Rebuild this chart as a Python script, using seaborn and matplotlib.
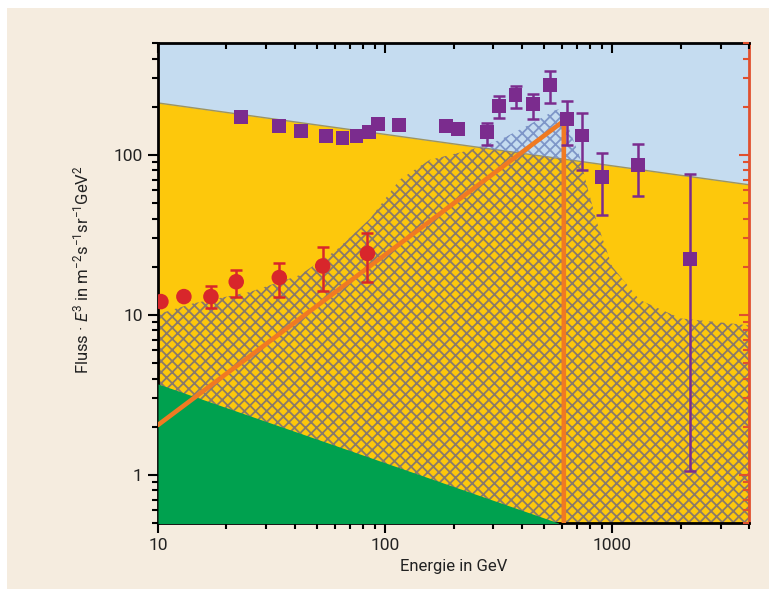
import matplotlib
matplotlib.use("Agg")
import matplotlib.pyplot as plt
import numpy as np
import seaborn as sns
from matplotlib.patches import Rectangle, Polygon
from matplotlib.ticker import FuncFormatter, NullFormatter

sns.set_theme(style="ticks")
plt.rcParams['font.family'] = ['Roboto', 'DejaVu Sans']
plt.rcParams['mathtext.fontset'] = 'custom'
plt.rcParams['mathtext.rm'] = 'Roboto'
plt.rcParams['mathtext.it'] = 'Roboto:italic'
plt.rcParams['hatch.linewidth'] = 1.3

# background power law (yellow / blue boundary)
bg_e = [10, 4000]
bg_flux = [211, 65]

# hatched band
hatch_e = [10, 14.3, 25.4, 42, 61, 86, 116, 157, 236, 320, 430, 560, 600,
           640, 720, 770, 850, 1000, 1320, 2000, 4000]
hatch_flux = [10.1, 11.8, 13.9, 17.7, 25.4, 40, 70, 93, 107, 124, 154, 190, 195,
              150, 97, 66, 39, 20, 12.4, 9.5, 8.6]

# green triangle
green_e = [10, 580]
green_flux = [3.7, 0.5]

# orange model line
model_e = [10, 612, 612]
model_flux = [2.05, 163, 0.3]

# red circles
red_e = [10.3, 13.0, 17.1, 22.1, 34.2, 53.1, 83.6]
red_flux = [12.1, 13.0, 13.0, 16.1, 17.1, 20.2, 24.2]
red_lo = [11.8, 12.6, 11.0, 13.0, 13.0, 14.1, 16.1]
red_hi = [12.4, 13.4, 15.2, 19.2, 21.2, 26.5, 32.7]

# purple squares
pur_e = [23.1, 34, 42.8, 54.8, 64.9, 74.8, 84.7, 93.1, 115, 186, 210,
         281, 317, 375, 449, 532, 630, 733, 903, 1302, 2198]
pur_flux = [173, 152, 141.5, 131.7, 126.8, 130.6, 139.5, 155, 153.7, 152, 144.4,
            139.5, 203, 237, 207, 273, 167, 132, 73, 86.4, 22.2]
pur_lo = [173, 152, 141.5, 131.7, 126.8, 130.6, 139.5, 155, 153.7, 152, 144.4,
          115.2, 169, 195, 167, 212, 115, 80.4, 42.1, 55.3, 1.05]
pur_hi = [173, 152, 141.5, 131.7, 126.8, 130.6, 139.5, 155, 153.7, 152, 144.4,
          157.5, 233, 269, 240, 336, 218, 181.8, 103, 117, 75.9]

blue = '#C5DCF0'
yellow = '#FDC80C'
green = '#00A14F'
orange = '#F07A22'
red = '#D8262B'
purple = '#7B2C8E'
edge_red = '#E0502E'
ink = '#222222'

fig = plt.figure(figsize=(7.69, 5.89), dpi=100)
fig.patch.set_facecolor('white')
fig.patches.append(Rectangle((7 / 769, 0), 1, 1 - 8 / 589, transform=fig.transFigure,
                             facecolor='#F5ECDF', edgecolor='none', zorder=-10))

ax = fig.add_axes([158 / 769, 66 / 589, 591 / 769, 480 / 589])
ax.set_facecolor(blue)
ax.set_xscale('log')
ax.set_yscale('log')
ax.set_xlim(10, 4000)
ax.set_ylim(0.5, 500)

yel = ax.fill_between(bg_e, bg_flux, 0.3, color=yellow, linewidth=0, zorder=1)
ax.plot(bg_e, bg_flux, color='#9C9462', lw=1, zorder=1.5)

# hatched band: brown over yellow, bluish over blue
above = Polygon([(bg_e[0], bg_flux[0]), (bg_e[1], bg_flux[1]), (bg_e[1], 1e4), (bg_e[0], 1e4)],
                transform=ax.transData)
h_blue = ax.fill_between(hatch_e, hatch_flux, 0.3, facecolor='none', edgecolor='#7E96C8',
                         hatch='xxx', linewidth=0, zorder=2)
h_blue.set_clip_path(above)
h_brown = ax.fill_between(hatch_e, hatch_flux, 0.3, facecolor='none', edgecolor='#8A7A6A',
                          hatch='xxx', linewidth=0, zorder=2)
h_brown.set_clip_path(yel.get_paths()[0], ax.transData)

ax.fill_between(green_e, green_flux, 0.3, color=green, linewidth=0, zorder=3)

sns.lineplot(x=model_e, y=model_flux, sort=False, estimator=None, color=orange,
             lw=3.3, ax=ax, zorder=4)

red_f = np.array(red_flux)
ax.errorbar(red_e, red_flux, yerr=[red_f - np.array(red_lo), np.array(red_hi) - red_f],
            fmt='none', ecolor=red, elinewidth=1.8, capsize=4.3, capthick=1.8, zorder=5)
sns.scatterplot(x=red_e, y=red_flux, marker='o', s=125, color=red, edgecolor='none',
                ax=ax, zorder=6)

pur_f = np.array(pur_flux)
ax.errorbar(pur_e, pur_flux, yerr=[pur_f - np.array(pur_lo), np.array(pur_hi) - pur_f],
            fmt='none', ecolor=purple, elinewidth=1.8, capsize=4.6, capthick=1.8, zorder=5)
sns.scatterplot(x=pur_e, y=pur_flux, marker='s', s=100, color=purple, edgecolor='none',
                ax=ax, zorder=6)

# axes styling
for side in ['left', 'bottom', 'top']:
    ax.spines[side].set_color('black')
    ax.spines[side].set_linewidth(2)
ax.spines['right'].set_color(edge_red)
ax.spines['right'].set_linewidth(2)

ax.tick_params(which='both', direction='out', color='black', width=1.5,
               labelsize=12.5, labelcolor=ink, top=False, right=False)
ax.tick_params(which='major', length=7, pad=4)
ax.tick_params(which='minor', length=4)
fmt = FuncFormatter(lambda v, p: f'{v:g}')
ax.xaxis.set_major_formatter(fmt)
ax.yaxis.set_major_formatter(fmt)
ax.xaxis.set_minor_formatter(NullFormatter())
ax.yaxis.set_minor_formatter(NullFormatter())

# top ticks pointing inwards
top = ax.twiny()
top.set_xscale('log')
top.set_xlim(ax.get_xlim())
top.tick_params(which='both', direction='in', color='black', width=1.5,
                labeltop=False, labelbottom=False, bottom=False)
top.tick_params(which='major', length=7)
top.tick_params(which='minor', length=4)
top.xaxis.set_major_formatter(NullFormatter())
top.xaxis.set_minor_formatter(NullFormatter())
for s in top.spines.values():
    s.set_visible(False)

# right ticks, red, pointing inwards
right = ax.twinx()
right.set_yscale('log')
right.set_ylim(ax.get_ylim())
right.tick_params(which='both', direction='in', color=edge_red, width=1.5,
                  labelright=False, labelleft=False, left=False)
right.tick_params(which='major', length=7)
right.tick_params(which='minor', length=4)
right.yaxis.set_major_formatter(NullFormatter())
right.yaxis.set_minor_formatter(NullFormatter())
for s in right.spines.values():
    s.set_visible(False)

ax.set_xlabel('Energie in GeV', fontsize=12, color=ink)
ax.xaxis.set_label_coords(0.5, -0.075)
ax.set_ylabel(r'Fluss · $E^3$ in m$^{-2}$s$^{-1}$sr$^{-1}$GeV$^2$', fontsize=12, color=ink)
ax.yaxis.set_label_coords(-0.112, 0.527)

fig.savefig('out.png', dpi=100)
